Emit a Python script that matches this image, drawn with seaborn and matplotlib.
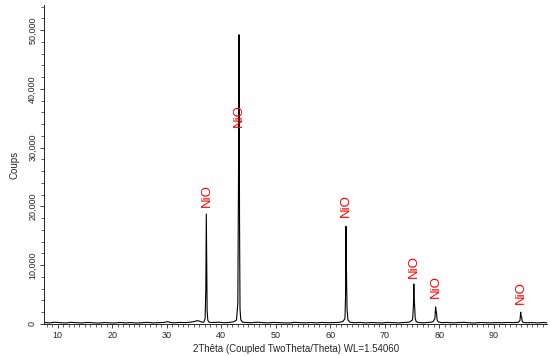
import matplotlib
matplotlib.use("Agg")
import matplotlib.pyplot as plt
import seaborn as sns
from matplotlib.ticker import MultipleLocator, FuncFormatter

# diffractogram (2theta in degrees, counts)
two_theta = [7.5, 8.5, 9.5, 10.5, 11.5, 12.5, 13.5, 14.5, 15.5, 16.5, 17.5, 18.5,
             19.5, 20.5, 21.5, 22.5, 23.5, 24.5, 25.5, 26.5, 27.5, 28.5, 29.5, 30.2,
             30.8, 31.5, 32.5, 33.5, 34.5, 35.2, 35.6, 36.0, 36.4, 36.8, 37.05, 37.18,
             37.27, 37.33, 37.42, 37.55, 37.8, 38.5, 39.5, 40.5, 41.5, 42.3, 42.8, 43.05,
             43.18, 43.27, 43.31, 43.36, 43.45, 43.6, 43.9, 44.5, 45.5, 46.5, 47.5, 48.5,
             49.5, 50.5, 51.5, 52.5, 53.5, 54.5, 55.5, 56.5, 57.5, 58.5, 59.5, 60.5,
             61.5, 62.3, 62.7, 62.8, 62.88, 62.93, 62.98, 63.08, 63.25, 63.6, 64.5, 65.5,
             66.5, 67.5, 68.5, 69.5, 70.5, 71.5, 72.5, 73.5, 74.5, 75.1, 75.25, 75.33,
             75.4, 75.48, 75.58, 75.75, 76.2, 77.0, 78.0, 78.8, 79.2, 79.32, 79.4, 79.5,
             79.6, 79.8, 80.4, 81.5, 82.5, 83.5, 84.5, 85.5, 86.5, 87.5, 88.5, 89.5,
             90.5, 91.5, 92.5, 93.5, 94.5, 94.8, 94.93, 95.0, 95.1, 95.2, 95.4, 96.0,
             97.0, 98.0, 99.0, 99.8]
counts = [250, 180, 300, 220, 160, 280, 210, 170, 260, 200, 150, 240,
          190, 170, 250, 180, 230, 160, 210, 270, 180, 220, 260, 380,
          240, 200, 260, 230, 320, 450, 560, 480, 330, 300, 900, 6000,
          18700, 12000, 2200, 600, 280, 250, 300, 220, 260, 380, 650, 3500,
          26000, 49200, 40000, 18000, 2500, 700, 300, 250, 200, 300, 240, 180,
          260, 220, 200, 170, 280, 220, 190, 250, 180, 260, 210, 240,
          260, 400, 900, 4500, 16600, 12000, 8600, 2500, 700, 300, 200, 260,
          180, 240, 210, 170, 260, 220, 180, 250, 300, 700, 3000, 6800,
          4200, 3000, 1000, 400, 250, 200, 260, 350, 900, 2900, 2300, 1800,
          700, 350, 220, 260, 190, 240, 280, 200, 170, 250, 210, 190,
          240, 200, 260, 220, 280, 600, 2000, 1300, 1200, 500, 250, 200,
          230, 180, 240, 200]

peak_pos = [37.3, 43.3, 62.9, 75.4, 79.4, 95.0]
label_y = [21800, 35400, 20100, 9800, 6300, 5400]
peak_names = ["NiO", "NiO", "NiO", "NiO", "NiO", "NiO"]
x_ticks = [10, 20, 30, 40, 50, 60, 70, 80, 90]

sns.set_style("ticks")
plt.rcParams["font.family"] = ["Liberation Sans", "DejaVu Sans"]

fig = plt.figure(figsize=(5.5, 3.56), dpi=100)
ax = fig.add_axes([0.08, 0.09, 0.915, 0.895])

sns.lineplot(x=two_theta, y=counts, ax=ax, color="black", linewidth=0.8,
             estimator=None, sort=True)

for xp, yp, name in zip(peak_pos, label_y, peak_names):
    ax.text(xp, yp, name, color="red", fontsize=9.5, rotation=90,
            ha="center", va="center")

ax.set_xlim(7.5, 99.8)
ax.set_ylim(0, 54200)
ax.set_xticks(x_ticks)
ax.xaxis.set_minor_locator(MultipleLocator(1))
ax.yaxis.set_major_locator(MultipleLocator(10000))
ax.yaxis.set_minor_locator(MultipleLocator(2000))
ax.yaxis.set_major_formatter(FuncFormatter(lambda v, p: f"{int(v):,}"))
ax.tick_params(axis="both", which="major", labelsize=6.5, length=3, width=0.6, pad=2)
ax.tick_params(axis="both", which="minor", length=2, width=0.5)
for lab in ax.get_yticklabels():
    lab.set_rotation(90)
    lab.set_va("center")
sns.despine(ax=ax)
for s in ["left", "bottom"]:
    ax.spines[s].set_linewidth(0.7)

ax.set_xlabel("2Thêta (Coupled TwoTheta/Theta) WL=1.54060", fontsize=7, labelpad=3)
ax.set_ylabel("Coups", fontsize=7, labelpad=6)

fig.savefig("out.png", dpi=100)
